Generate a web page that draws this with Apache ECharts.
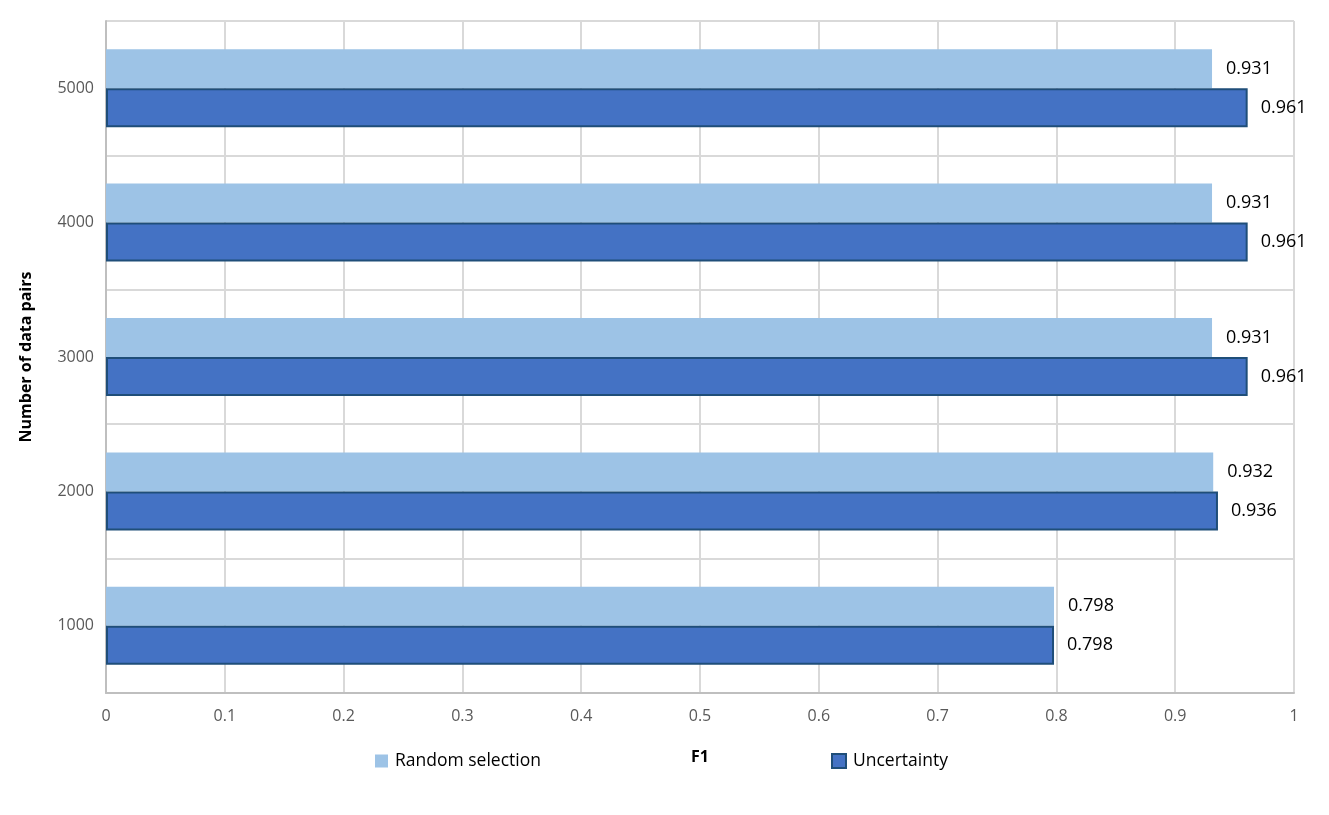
<!DOCTYPE html>
<html><head><meta charset="utf-8">
<script src="https://cdn.jsdelivr.net/npm/echarts@6/dist/echarts.min.js"></script>
<style>html,body{margin:0;padding:0;background:#fff}#c{width:1329px;height:815px}</style>
</head><body><div id="c"></div>
<script>
const categories = ['1000','2000','3000','4000','5000'];
const randomSelection = [0.798, 0.932, 0.931, 0.931, 0.931];
const uncertainty = [0.798, 0.936, 0.961, 0.961, 0.961];
const xTicks = [0,0.1,0.2,0.3,0.4,0.5,0.6,0.7,0.8,0.9,1];

const font = "'Open Sans','Noto Sans',sans-serif";
const chart = echarts.init(document.getElementById('c'), null, {renderer:'canvas'});
chart.setOption({
  animation:false,
  textStyle:{fontFamily:font},
  grid:{left:106,right:35,top:21,bottom:122,containLabel:false},
  legend:[
    {data:['Random selection'],left:370,top:747,itemWidth:13,itemHeight:13,icon:'rect',itemGap:0,
     textStyle:{fontFamily:font,fontSize:17.5,color:'#000',padding:[0,0,0,2]}},
    {data:['Uncertainty'],left:826,top:747,itemWidth:14,itemHeight:14,icon:'rect',
     textStyle:{fontFamily:font,fontSize:17.5,color:'#000',padding:[0,0,0,2]}}
  ],
  xAxis:{type:'value',min:0,max:1,interval:0.1,
    name:'F1',nameLocation:'middle',nameGap:56,
    nameTextStyle:{fontWeight:'bold',fontSize:16,color:'#000',fontFamily:font},
    axisLine:{show:true,lineStyle:{color:'#bfbfbf',width:2}},
    axisTick:{show:false},
    axisLabel:{color:'#595959',fontSize:16,margin:15,formatter:v=>String(Math.round(v*10)/10)},
    splitLine:{show:true,lineStyle:{color:'#d9d9d9',width:2}}
  },
  yAxis:{type:'category',data:categories,
    name:'Number of data pairs',nameLocation:'middle',nameGap:72,nameRotate:90,
    nameTextStyle:{fontWeight:'bold',fontSize:16,color:'#000',fontFamily:font},
    axisLine:{show:true,lineStyle:{color:'#bfbfbf',width:2}},
    axisTick:{show:false},
    axisLabel:{color:'#595959',fontSize:16,margin:12},
    splitLine:{show:true,lineStyle:{color:'#d9d9d9',width:2}}
  },
  series:[
    {name:'Random selection',type:'bar',data:randomSelection,barGap:'0%',barCategoryGap:'42%',
     itemStyle:{color:'#9dc3e6'},
     label:{show:true,position:'right',distance:14,color:'#000',fontSize:18,fontFamily:font,formatter:p=>p.value.toFixed(3)}},
    {name:'Uncertainty',type:'bar',data:uncertainty,barGap:'0%',barCategoryGap:'42%',
     itemStyle:{color:'#4472c4',borderColor:'#1f4e79',borderWidth:2},
     label:{show:true,position:'right',distance:13,color:'#000',fontSize:18,fontFamily:font,formatter:p=>p.value.toFixed(3)}}
  ]
});
</script></body></html>
